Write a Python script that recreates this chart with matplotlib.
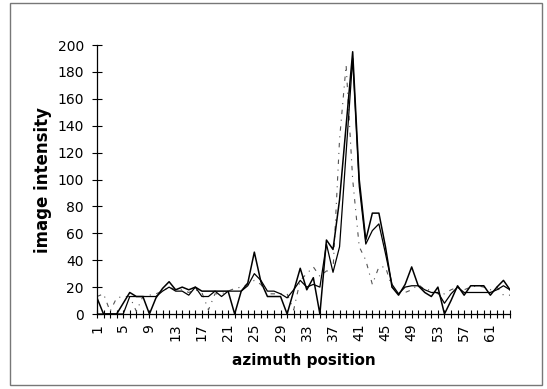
import numpy as np
import matplotlib
matplotlib.use("Agg")
import matplotlib.pyplot as plt
from matplotlib.patches import Rectangle

# azimuth positions 1..64 and the three intensity profiles
azimuth = np.arange(1, 65)
profile_a = [12, 0, 0, 0, 8, 16, 13, 13, 0, 12,
             19, 24, 18, 20, 18, 20, 17, 17, 17, 17,
             17, 0, 17, 23, 46, 24, 13, 13, 13, 0,
             17, 34, 18, 27, 0, 55, 48, 85, 140, 195,
             100, 55, 75, 75, 50, 20, 14, 22, 35, 21,
             16, 13, 20, 0, 10, 21, 14, 21, 21, 21,
             14, 20, 25, 18]
profile_b = [0, 0, 0, 0, 0, 13, 13, 13, 13, 13,
             17, 20, 17, 17, 14, 20, 13, 13, 17, 13,
             17, 17, 17, 21, 30, 25, 17, 17, 15, 12,
             18, 25, 20, 22, 20, 52, 31, 50, 120, 190,
             95, 52, 62, 67, 45, 22, 15, 20, 21, 21,
             18, 16, 16, 8, 15, 20, 16, 16, 16, 16,
             16, 18, 21, 18]
profile_c = [13, 15, 2, 12, 13, 13, 2, 13, 14, 15,
             17, 20, 18, 18, 16, 18, 16, 3, 15, 15,
             17, 19, 20, 22, 25, 22, 15, 15, 15, 15,
             3, 25, 30, 35, 28, 32, 32, 130, 185, 100,
             50, 40, 22, 35, 35, 20, 16, 16, 18, 22,
             18, 18, 15, 15, 18, 20, 18, 20, 21, 20,
             18, 20, 14, 14]
y_ticks = list(range(0, 201, 20))
x_labels = [str(p) if (p - 1) % 4 == 0 else "" for p in azimuth]

plt.rcParams["font.family"] = ["DejaVu Sans"]

fig = plt.figure(figsize=(5.47, 3.89), dpi=100)
ax = fig.add_axes([0.1773, 0.1928, 0.7551, 0.6915])

# the third profile is only faintly visible in the scan: sparse dash-dot
ax.plot(azimuth, profile_c, color="#555555", lw=0.8, linestyle=(0, (4, 5, 1, 5)))
ax.plot(azimuth, profile_b, color="black", lw=0.9)
ax.plot(azimuth, profile_a, color="black", lw=1.1)

ax.set_xlim(1, 64)
ax.set_ylim(0, 200)
ax.set_yticks(y_ticks)
ax.set_xticks(azimuth)
ax.set_xticklabels(x_labels, rotation=90, fontsize=10)
ax.tick_params(axis="y", labelsize=10, direction="inout", length=7, width=0.8, pad=6)
ax.tick_params(axis="x", direction="inout", length=6, width=0.8, pad=4)

for s in ["top", "right"]:
    ax.spines[s].set_visible(False)
for s in ["left", "bottom"]:
    ax.spines[s].set_linewidth(0.9)

ax.set_ylabel("image intensity", fontsize=12, fontweight="bold", labelpad=4)
ax.set_xlabel("azimuth position", fontsize=11, fontweight="bold", labelpad=8)

# thin frame around the whole picture
fig.patches.append(Rectangle((0.018, 0.01), 0.973, 0.982, transform=fig.transFigure,
                             fill=False, edgecolor="#777777", lw=1))

fig.savefig("out.png", dpi=100)
